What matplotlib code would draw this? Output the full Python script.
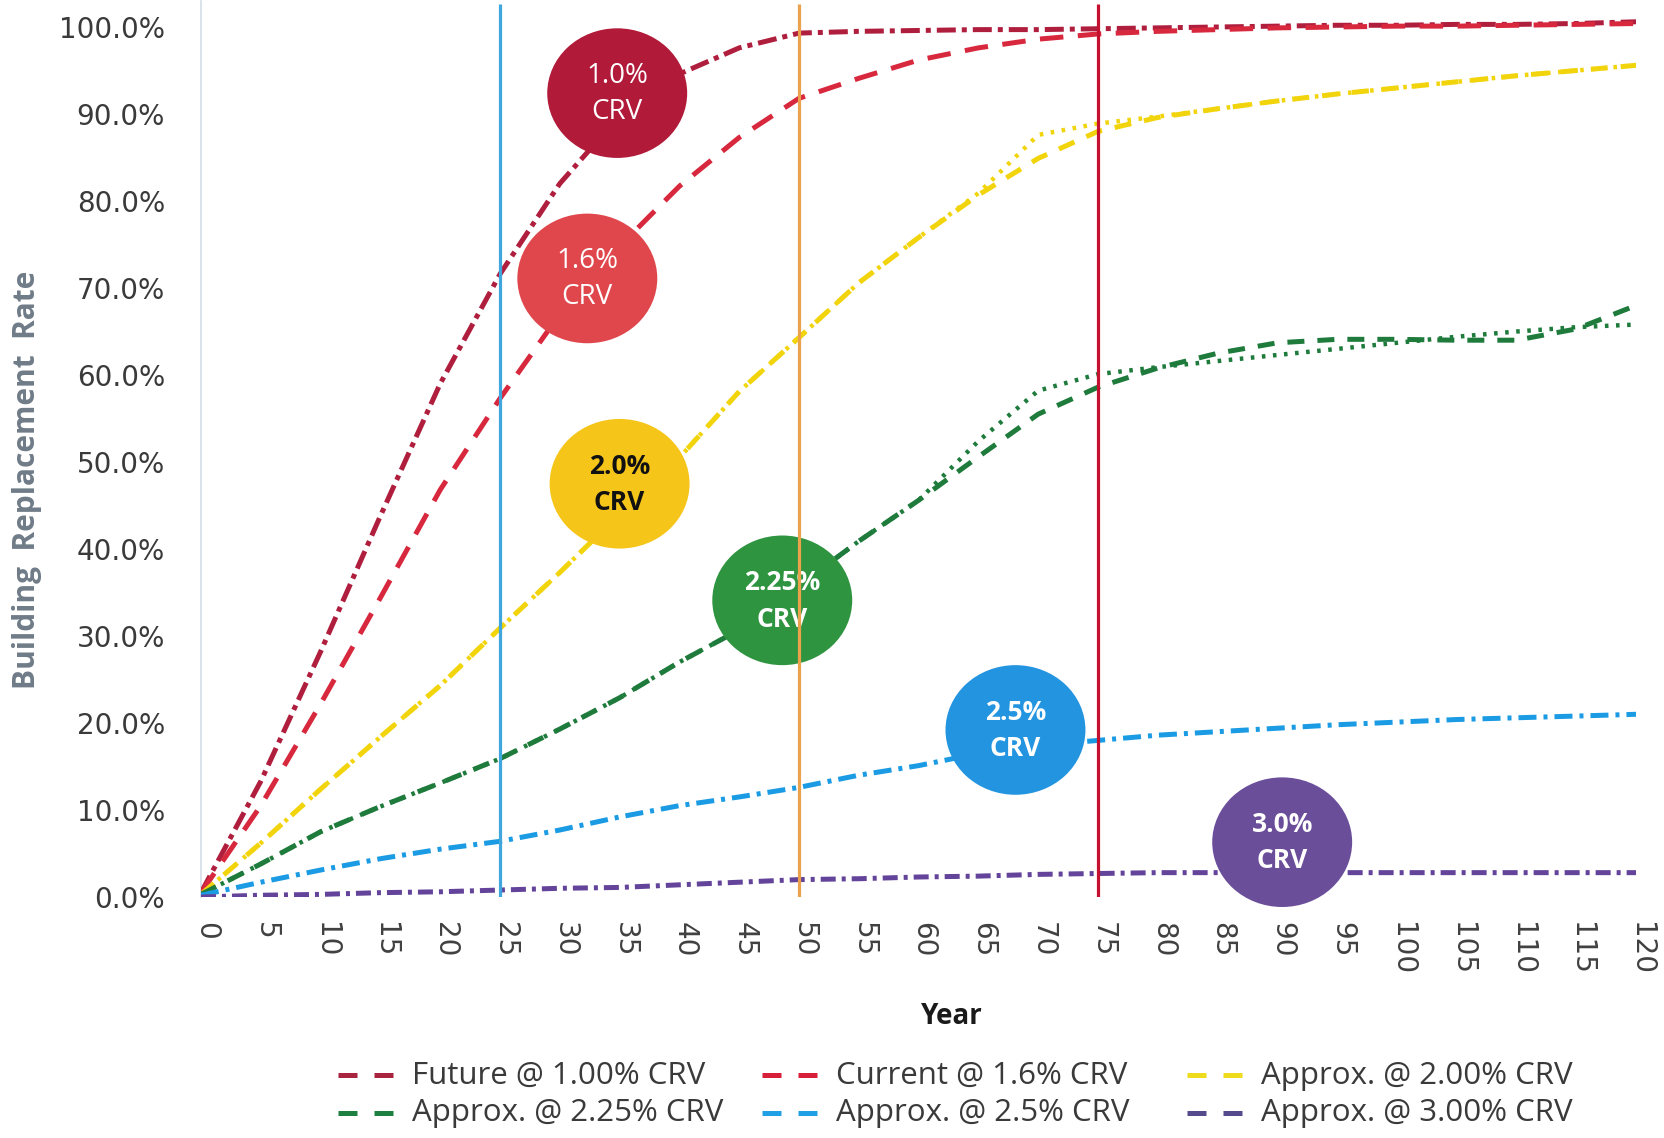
import matplotlib
matplotlib.use("Agg")
import matplotlib.pyplot as plt
from matplotlib.patches import Ellipse
from matplotlib.lines import Line2D
from matplotlib.transforms import ScaledTranslation

# replacement rate (%) by year, read every 5 years
years = list(range(0, 121, 5))
future_100 = [0.5, 13.3, 28.2, 43.8, 59.0, 71.6, 82.0, 89.8, 94.6, 97.6, 99.3, 99.5, 99.6, 99.7,
              99.7, 99.8, 99.9, 100.0, 100.1, 100.2, 100.2, 100.3, 100.3, 100.4, 100.6]
current_160 = [0.5, 10.5, 22.2, 34.4, 46.8, 57.3, 67.0, 74.8, 81.7, 87.3, 91.8, 94.1, 96.2, 97.6,
               98.6, 99.2, 99.5, 99.7, 99.9, 100.0, 100.1, 100.1, 100.2, 100.3, 100.4]
approx_200 = [0.3, 6.2, 12.4, 18.4, 24.3, 30.9, 37.3, 44.0, 50.5, 58.1, 64.3, 70.6, 75.8, 80.7,
              84.9, 88.0, 89.6, 90.6, 91.5, 92.3, 93.0, 93.7, 94.4, 95.0, 95.6]
approx_200_fit = [0.3, 6.2, 12.4, 18.4, 24.3, 30.9, 37.3, 44.0, 50.5, 58.1, 64.3, 70.6, 75.8, 80.9,
                  87.6, 88.9, 89.7, 90.6, 91.5, 92.3, 93.0, 93.7, 94.4, 95.0, 95.6]
approx_225 = [0.3, 3.8, 7.5, 10.4, 13.1, 15.9, 19.3, 22.9, 27.0, 30.7, 35.8, 40.9, 45.6, 50.6,
              55.5, 58.6, 60.8, 62.5, 63.7, 64.1, 64.1, 64.0, 64.0, 65.3, 68.0]
approx_225_fit = [0.3, 3.8, 7.5, 10.4, 13.1, 15.9, 19.3, 22.9, 27.0, 30.7, 35.8, 40.9, 45.6, 52.4,
                  58.2, 60.1, 60.9, 61.6, 62.3, 63.0, 63.7, 64.4, 65.0, 65.5, 65.8]
approx_250 = [0.2, 1.7, 3.1, 4.4, 5.5, 6.4, 7.7, 9.2, 10.5, 11.5, 12.6, 14.0, 15.1, 16.5,
              17.4, 18.0, 18.6, 19.0, 19.4, 19.8, 20.1, 20.4, 20.6, 20.8, 21.0]
approx_300 = [0.0, 0.2, 0.3, 0.5, 0.6, 0.8, 1.0, 1.1, 1.4, 1.7, 2.0, 2.1, 2.3, 2.4,
              2.6, 2.7, 2.8, 2.8, 2.8, 2.8, 2.8, 2.8, 2.8, 2.8, 2.8]

legend_labels = ["Future @ 1.00% CRV", "Current @ 1.6% CRV", "Approx. @ 2.00% CRV",
                 "Approx. @ 2.25% CRV", "Approx. @ 2.5% CRV", "Approx. @ 3.00% CRV"]
legend_colors = ["#A8243F", "#D81F3A", "#EEDB1C", "#1E8040", "#22A0E6", "#544A8C"]

bubble_labels = ["1.0%", "1.6%", "2.0%", "2.25%", "2.5%", "3.0%"]
bubble_years = [34.8, 32.3, 35.0, 48.6, 68.1, 90.4]
bubble_rates = [92.4, 71.1, 47.5, 34.1, 19.2, 6.3]

marker_years = [25, 50, 75]
x_ticks = list(range(0, 121, 5))
y_ticks = list(range(0, 101, 10))

W, H = 1665, 1138
fig = plt.figure(figsize=(W / 100, H / 100), dpi=100)
fig.patch.set_facecolor("white")


def px(x):
    return x / W


def py(y):
    return 1 - y / H


ax = fig.add_axes([px(201), 241 / H, 1435.2 / W, 896.1 / H])
ax.set_xlim(0, 120)
ax.set_ylim(0, 103)
ax.set_facecolor("white")

lw = 3.6
ax.plot(years, future_100, color="#B01E3E", lw=lw, ls=(0, (3.8, 1.2, 1.0, 1.2)), zorder=3)
ax.plot(years, current_160, color="#D8283E", lw=lw, ls=(0, (4.7, 2.9)), zorder=3)
ax.plot(years, approx_200, color="#F2D40C", lw=lw, ls=(0, (3.4, 2.6)), zorder=3)
ax.plot(years, approx_200_fit, color="#F2D40C", lw=3.2, ls=(0, (0.8, 1.7)), zorder=3)
ax.plot(years, approx_225, color="#1E7B3C", lw=lw, ls=(0, (3.4, 2.6)), zorder=3)
ax.plot(years, approx_225_fit, color="#1E7B3C", lw=3.2, ls=(0, (0.8, 1.7)), zorder=3)
ax.plot(years, approx_250, color="#1A9BE3", lw=lw, ls=(0, (3.6, 1.4, 0.8, 1.4)), zorder=3)
ax.plot(years, approx_300, color="#63449A", lw=lw, ls=(0, (3.0, 1.2, 0.8, 1.2)), zorder=3)

# CRV call-out bubbles
bubble_colors = ["#B11A39", "#E0474C", "#F6C51A", "#2F9440", "#2394E0", "#6A4E9A"]
text_colors = ["white", "white", "#111111", "white", "white", "white"]
weights = ["normal", "normal", "bold", "bold", "bold", "bold"]
for lab, x, y, fc, tc, wt in zip(bubble_labels, bubble_years, bubble_rates,
                                  bubble_colors, text_colors, weights):
    ax.add_patch(Ellipse((x, y), 11.7, 14.9, facecolor=fc, edgecolor="none",
                         zorder=4, clip_on=False))
    fs = 20 if wt == "normal" else 19
    for txt, dy in ((lab, 12.5), ("CRV", -13.5)):
        ax.annotate(txt, (x, y), xytext=(0, dy), textcoords="offset points",
                    ha="center", va="center", fontsize=fs, color=tc,
                    fontweight=wt, family="Open Sans", zorder=6, annotation_clip=False)

ax.vlines(marker_years, 0, 102.6, colors=["#3FA6DE", "#EBA24C", "#C5102F"],
          lw=2.3, zorder=7)

ax.set_xticks(x_ticks)
ax.set_xticklabels([str(v) for v in x_ticks])
ax.set_yticks(y_ticks)
ax.set_yticklabels([f"{v:.1f}%" for v in y_ticks])
ax.tick_params(axis="x", length=0, pad=18, labelsize=20, labelcolor="#404040")
ax.tick_params(axis="y", length=0, pad=26, labelsize=20, labelcolor="#3A3A3A")
shift = ScaledTranslation(5 / 100, 0, fig.dpi_scale_trans)
for lab in ax.get_xticklabels():
    lab.set_rotation(270)
    lab.set_ha("center")
    lab.set_va("top")
    lab.set_transform(lab.get_transform() + shift)

for side in ("top", "right", "bottom"):
    ax.spines[side].set_visible(False)
ax.spines["left"].set_color("#D3DEE8")
ax.spines["left"].set_linewidth(1.2)

fig.text(px(952), py(1017), "Year", fontsize=20, fontweight="bold", family="Open Sans",
         ha="center", va="center", color="#1A1A1A")
fig.text(px(27), py(480), "Building  Replacement  Rate", rotation=90, fontsize=21.5,
         fontweight="bold", family="Open Sans", ha="center", va="center", color="#6F7B87")

# legend, filled row by row
col_x = [338, 762, 1187]
row_y = [1075, 1113]
row_base = [1084, 1121]
for i, (lab, col) in enumerate(zip(legend_labels, legend_colors)):
    x0 = col_x[i % 3]
    r = i // 3
    fig.add_artist(Line2D([px(x0), px(x0 + 55)], [py(row_y[r])] * 2, transform=fig.transFigure,
                          color=col, lw=3.6, ls=(0, (3.8, 3.4))))
    fig.text(px(x0 + 74), py(row_base[r]), lab, fontsize=22.5, family="Open Sans",
             va="baseline", ha="left", color="#3A3A3A")

fig.savefig("out.png", dpi=100)
